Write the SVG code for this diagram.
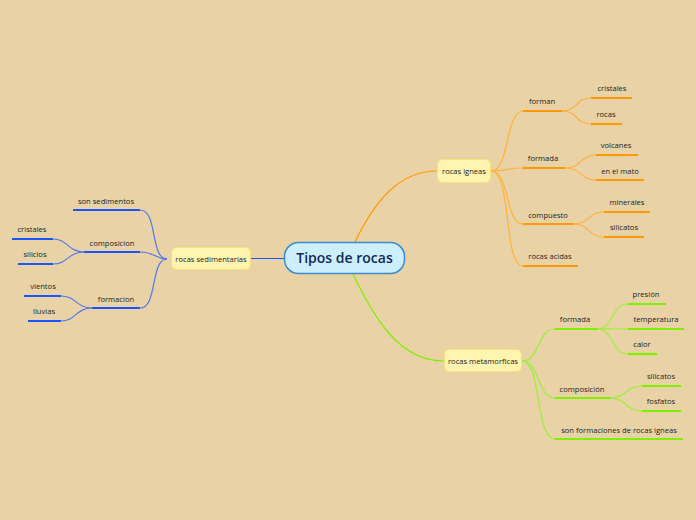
<svg xmlns="http://www.w3.org/2000/svg" width="696" height="520" viewBox="0 0 696 520">
<style>
text{font-family:"Open Sans","Noto Sans","Liberation Sans",sans-serif;font-size:7.6px;fill:#222;text-anchor:middle}
.c{fill:none;stroke-width:1.2}
.u{fill:none;stroke-width:2.2}
.b{stroke:#1a55ff}.bc{stroke:#5577ee}
.o{stroke:#ff9a00}.oc{stroke:#ffb23a}
.g{stroke:#7ff000}.gc{stroke:#9cf03a}
.n{fill:#fff5b0;stroke:#f5e27e;stroke-width:1.2}
</style>
<rect width="696" height="520" fill="#e9d3a6"/>
<g id="connectors">
<path class="c b" d="M251 258.5 H284"/>
<path class="c o" d="M355 242 C375 200 400 171 437 171" stroke-width="1.8"/>
<path class="c g" d="M353 274 C375 320 400 361 444 361" stroke-width="1.8"/>
<path class="c bc" d="M167 259 C150 259 158 210 140 210"/>
<path class="c bc" d="M167 259 C155 259 155 252 140 252"/>
<path class="c bc" d="M167 259 C150 259 158 308 140 308"/>
<path class="c bc" d="M84 252 C68 252 68 239 53 239"/>
<path class="c bc" d="M84 252 C68 252 68 264 53 264"/>
<path class="c bc" d="M92 308 C76 308 76 296 61 296"/>
<path class="c bc" d="M92 308 C76 308 76 321 61 321"/>
<path class="c oc" d="M491 171 C510 171 505 111 523 111"/>
<path class="c oc" d="M491 171 C508 171 508 168 523 168"/>
<path class="c oc" d="M491 171 C510 171 505 224 523 224"/>
<path class="c oc" d="M491 171 C512 171 503 266 523 266"/>
<path class="c oc" d="M562 111 C578 111 575 98 591 98"/>
<path class="c oc" d="M562 111 C578 111 575 124 591 124"/>
<path class="c oc" d="M565 168 C582 168 580 155 596 155"/>
<path class="c oc" d="M565 168 C582 168 580 180 596 180"/>
<path class="c oc" d="M573 224 C590 224 588 212 604 212"/>
<path class="c oc" d="M573 224 C590 224 588 237 604 237"/>
<path class="c gc" d="M522 361 C540 361 537 329 555 329"/>
<path class="c gc" d="M522 361 C540 361 537 398 555 398"/>
<path class="c gc" d="M522 361 C542 361 535 439 555 439"/>
<path class="c gc" d="M597 329 C614 329 611 304 628 304"/>
<path class="c gc" d="M597 329 H628"/>
<path class="c gc" d="M597 329 C614 329 611 354 628 354"/>
<path class="c gc" d="M610 398 C627 398 625 386 642 386"/>
<path class="c gc" d="M610 398 C627 398 625 411 642 411"/>
</g>
<g id="center">
<rect x="284.5" y="242.5" width="120" height="31" rx="14" fill="#cdeefc" stroke="#3b8bd0" stroke-width="1.5"/>
<text x="344.5" y="263" style="font-size:14px;font-weight:600;fill:#102a55">Tipos de rocas</text>
</g>
<g id="rocas-sedimentarias">
<rect x="171.5" y="247.5" width="79" height="22" rx="5" class="n"/>
<text x="211" y="261.5">rocas sedimentarias</text>
</g>
<g id="son-sedimentos"><path class="u b" d="M73 210 H140"/><text x="106" y="204">son sedimentos</text></g>
<g id="composicion"><path class="u b" d="M84 252 H140"/><text x="112" y="246">composicion</text></g>
<g id="formacion"><path class="u b" d="M92 308 H140"/><text x="116" y="302">formacion</text></g>
<g id="cristales-l"><path class="u b" d="M12 239 H53"/><text x="32" y="232">cristales</text></g>
<g id="silicios"><path class="u b" d="M18 264 H53"/><text x="35" y="257">silicios</text></g>
<g id="vientos"><path class="u b" d="M24 296 H61"/><text x="43" y="289">vientos</text></g>
<g id="lluvias"><path class="u b" d="M28 321 H61"/><text x="44" y="314">lluvias</text></g>
<g id="rocas-igneas">
<rect x="437.5" y="159.5" width="53" height="23" rx="5" class="n"/>
<text x="464" y="174">rocas igneas</text>
</g>
<g id="forman"><path class="u o" d="M523 111 H562"/><text x="542" y="104">forman</text></g>
<g id="cristales-r"><path class="u o" d="M591 98 H632"/><text x="612" y="91">cristales</text></g>
<g id="rocas"><path class="u o" d="M591 124 H622"/><text x="606" y="117">rocas</text></g>
<g id="formada-i"><path class="u o" d="M523 168 H565"/><text x="543" y="161">formada</text></g>
<g id="volcanes"><path class="u o" d="M596 155 H638"/><text x="616" y="148">volcanes</text></g>
<g id="en-el-mato"><path class="u o" d="M596 180 H644"/><text x="620" y="174">en el mato</text></g>
<g id="compuesto"><path class="u o" d="M523 224 H573"/><text x="548" y="218">compuesto</text></g>
<g id="minerales"><path class="u o" d="M604 212 H650"/><text x="627" y="205">minerales</text></g>
<g id="silicatos-i"><path class="u o" d="M604 237 H644"/><text x="624" y="230">silicatos</text></g>
<g id="rocas-acidas"><path class="u o" d="M523 266 H578"/><text x="550" y="259">rocas acidas</text></g>
<g id="rocas-metamorficas">
<rect x="444.5" y="349.5" width="77" height="22" rx="5" class="n"/>
<text x="483" y="364">rocas metamorficas</text>
</g>
<g id="formada-m"><path class="u g" d="M555 329 H597"/><text x="575" y="322">formada</text></g>
<g id="presion"><path class="u g" d="M628 304 H666"/><text x="646" y="297">presión</text></g>
<g id="temperatura"><path class="u g" d="M628 329 H684"/><text x="656" y="322">temperatura</text></g>
<g id="calor"><path class="u g" d="M628 354 H657"/><text x="642" y="347">calor</text></g>
<g id="composicion-m"><path class="u g" d="M555 398 H610"/><text x="582" y="392">composición</text></g>
<g id="silicatos-m"><path class="u g" d="M642 386 H681"/><text x="661" y="379">silicatos</text></g>
<g id="fosfatos"><path class="u g" d="M642 411 H681"/><text x="661" y="404">fosfatos</text></g>
<g id="son-formaciones"><path class="u g" d="M555 439 H683"/><text x="619" y="433">son formaciones de rocas igneas</text></g>
</svg>
